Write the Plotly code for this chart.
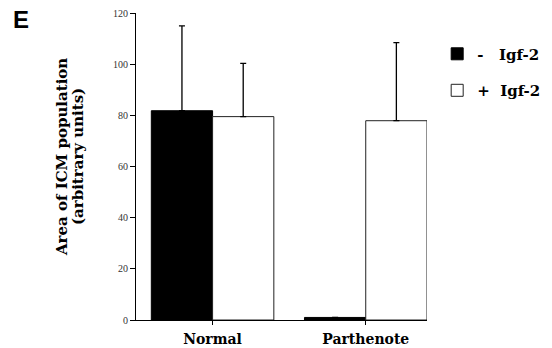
import plotly.graph_objects as go

categories = ["Normal", "Parthenote"]
minus_igf = [81.8, 1.0]
minus_err = [33.2, 0.0]
plus_igf = [79.5, 77.9]
plus_err = [20.8, 30.5]
y_ticks = [0, 20, 40, 60, 80, 100, 120]

serif = "Liberation Serif"
wide = "DejaVu Serif"

fig = go.Figure()
fig.add_trace(go.Bar(
    x=categories, y=minus_igf, name="-\u00a0\u00a0\u00a0Igf-2",
    marker=dict(color="black", line=dict(color="black", width=1)),
    error_y=dict(type="data", array=minus_err, arrayminus=[0, 0], symmetric=False,
                 visible=True, color="black", thickness=1.3, width=3),
    legendgroup="a",
))
fig.add_trace(go.Bar(
    x=categories, y=plus_igf, name="+\u00a0\u00a0Igf-2",
    marker=dict(color="white", line=dict(color="#222", width=1)),
    error_y=dict(type="data", array=plus_err, arrayminus=[0, 0], symmetric=False,
                 visible=True, color="black", thickness=1.3, width=3),
    legendgroup="b",
))

fig.update_layout(
    width=552, height=348,
    margin=dict(l=136, r=125, t=13, b=28, autoexpand=False),
    paper_bgcolor="white", plot_bgcolor="white",
    barmode="group", bargap=0.2, bargroupgap=0,
    font=dict(family=serif, color="black"),
    showlegend=True,
    legend=dict(x=1.035, xref="paper", y=0.92, xanchor="left", yanchor="top",
                font=dict(family=wide, size=15, color="black", weight="bold"),
                tracegroupgap=14, traceorder="grouped",
                bgcolor="rgba(0,0,0,0)"),
    xaxis=dict(range=[-0.5, 1.4], showline=True, linecolor="black", linewidth=1,
               ticks="outside", ticklen=4, tickcolor="black",
               tickfont=dict(family=wide, size=14, color="black", weight="bold"),
               ticklabelstandoff=2, automargin=False,
               showgrid=False, zeroline=False),
    yaxis=dict(range=[0, 120], tickvals=y_ticks, showline=True, linecolor="black",
               linewidth=1, ticks="outside", ticklen=5, tickcolor="black",
               tickfont=dict(family=serif, size=10, color="#333"),
               automargin=False,
               showgrid=False, zeroline=False),
    annotations=[
        dict(text="<b>E</b>", x=-0.43, y=1.03, xref="paper", yref="paper",
             xanchor="left", yanchor="top", showarrow=False,
             font=dict(family="Liberation Sans", size=24, color="black")),
        dict(text="<b>Area of ICM population</b>",
             x=-0.254, y=0.531, xref="paper", yref="paper", textangle=-90,
             xanchor="center", yanchor="middle", showarrow=False,
             font=dict(family=wide, size=15, color="black")),
        dict(text="<b>(arbitrary units)</b>",
             x=-0.199, y=0.531, xref="paper", yref="paper", textangle=-90,
             xanchor="center", yanchor="middle", showarrow=False,
             font=dict(family=wide, size=15, color="black")),
    ],
)

fig.write_html("out.html")
